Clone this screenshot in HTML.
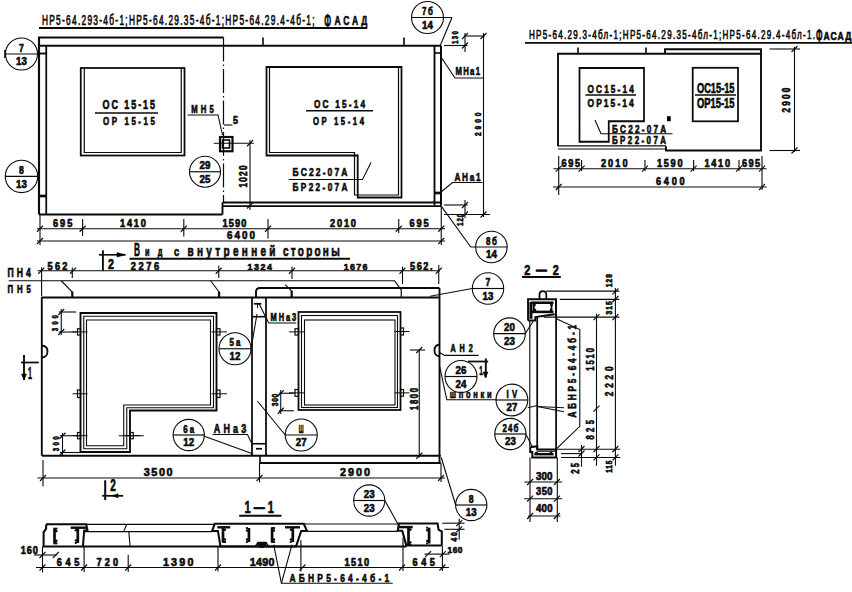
<!DOCTYPE html>
<html><head><meta charset="utf-8"><style>
html,body{margin:0;padding:0;background:#fff;}
svg{display:block;}
svg text{font-family:"Liberation Sans",sans-serif;fill:#0a0a0a;stroke:#0a0a0a;stroke-width:0.65px;}
</style></head><body>
<svg width="852" height="592" viewBox="0 0 852 592" stroke="#0a0a0a" fill="none" stroke-linecap="butt">
<rect x="0" y="0" width="852" height="592" fill="#fff" stroke="none"/>
<g stroke="#0a0a0a">
<text transform="translate(42,25.2) scale(0.6,1)" font-size="13.86" font-weight="normal" textLength="454.17" lengthAdjust="spacing">НР5-64.293-4б-1;НР5-64.29.35-4б-1;НР5-64.29.4-4б-1;</text>
<text transform="translate(324.2,27.5) scale(0.3819,1)" font-size="20.86" font-weight="bold" textLength="17.8" lengthAdjust="spacing">Ф</text>
<text transform="translate(334.5,24.6) scale(0.66,1)" font-size="12.86" font-weight="bold" textLength="49.7" lengthAdjust="spacing">АСАД</text>
<line x1="39" y1="28" x2="367" y2="28" stroke-width="1.76"/>
<circle cx="21.5" cy="54" r="16" stroke-width="1.1" fill="none"/>
<line x1="5.5" y1="54" x2="37.5" y2="54" stroke-width="1.16"/>
<text transform="translate(19.1,51.5) scale(0.7846,1)" font-size="11.0" font-weight="bold" textLength="6.12" lengthAdjust="spacing">7</text>
<text transform="translate(16.1,65.4) scale(0.8716,1)" font-size="11.14" font-weight="bold" textLength="12.39" lengthAdjust="spacing">13</text>
<line x1="5" y1="50" x2="5" y2="58" stroke-width="1.62"/>
<circle cx="21.5" cy="176.4" r="16.2" stroke-width="1.1" fill="none"/>
<line x1="5" y1="176.4" x2="40" y2="176.4" stroke-width="1.16"/>
<text transform="translate(19.1,173.9) scale(0.7846,1)" font-size="11.0" font-weight="bold" textLength="6.12" lengthAdjust="spacing">8</text>
<text transform="translate(16.1,187.8) scale(0.8716,1)" font-size="11.14" font-weight="bold" textLength="12.39" lengthAdjust="spacing">13</text>
<path d="M39,214.5 L39,37.5 L223.5,37.5" stroke-width="2.16" fill="none"/>
<line x1="39" y1="45.75" x2="441" y2="45.75" stroke-width="1.89"/>
<line x1="46.25" y1="45.75" x2="46.25" y2="214.5" stroke-width="1.76"/>
<line x1="39" y1="53.5" x2="46.25" y2="53.5" stroke-width="1.89"/>
<line x1="39" y1="196" x2="46.25" y2="196" stroke-width="2.7"/>
<line x1="39" y1="214.5" x2="222.5" y2="214.5" stroke-width="2.16"/>
<line x1="222.5" y1="214.5" x2="222.5" y2="202.5" stroke-width="1.89"/>
<line x1="222.5" y1="202.5" x2="441" y2="202.5" stroke-width="1.76"/>
<line x1="222.5" y1="206.2" x2="441" y2="206.2" stroke-width="1.76"/>
<line x1="434.5" y1="45.75" x2="434.5" y2="205.5" stroke-width="1.89"/>
<line x1="441" y1="45.75" x2="441" y2="205.5" stroke-width="2.03"/>
<line x1="434.5" y1="53" x2="441" y2="53" stroke-width="1.62"/>
<line x1="434.5" y1="193" x2="441" y2="193" stroke-width="2.7"/>
<line x1="223.5" y1="37.5" x2="223.5" y2="202.5" stroke-width="1.2" stroke-dasharray="24,3,1.5,3"/>
<line x1="263" y1="37.5" x2="263" y2="45.75" stroke-width="1.62"/>
<line x1="404" y1="37.5" x2="404" y2="45.75" stroke-width="1.62"/>
<rect x="80.75" y="68" width="103.75" height="87.5" stroke-width="1.76" fill="none"/>
<path d="M84.25,68 L84.25,152.5 L181.25,152.5 L181.25,68" stroke-width="1.21" fill="none"/>
<text transform="translate(102.5,108.75) scale(0.72,1)" font-size="12.5" font-weight="bold" textLength="72.92" lengthAdjust="spacing">ОС 15-15</text>
<line x1="95" y1="113" x2="158" y2="113" stroke-width="1.62"/>
<text transform="translate(103,125.2) scale(0.72,1)" font-size="11.0" font-weight="bold" textLength="72.22" lengthAdjust="spacing">ОР 15-15</text>
<text transform="translate(191.25,113) scale(0.72,1)" font-size="10.71" font-weight="bold" textLength="31.25" lengthAdjust="spacing">МН5</text>
<path d="M187.5,115 L218,115 L222.5,135" stroke-width="1.1" fill="none"/>
<text transform="translate(233,124) scale(0.7866,1)" font-size="11.43" font-weight="bold" textLength="6.36" lengthAdjust="spacing">5</text>
<line x1="224" y1="125" x2="232.5" y2="125" stroke-width="1.1"/>
<rect x="220" y="137" width="12.5" height="14.25" stroke-width="2.16" fill="none"/>
<rect x="222.5" y="140" width="7.0" height="8" stroke-width="1.62" fill="none"/>
<line x1="213.75" y1="143.25" x2="253.75" y2="143.25" stroke-width="1.1"/>
<circle cx="205" cy="171.75" r="15.5" stroke-width="1.1" fill="none"/>
<line x1="189.5" y1="171.75" x2="220.5" y2="171.75" stroke-width="1.16"/>
<text transform="translate(199.6,169.25) scale(0.8827,1)" font-size="11.0" font-weight="bold" textLength="12.24" lengthAdjust="spacing">29</text>
<text transform="translate(199.6,183.15) scale(0.8716,1)" font-size="11.14" font-weight="bold" textLength="12.39" lengthAdjust="spacing">25</text>
<text transform="translate(246.5,187.6) rotate(-90) scale(0.72,1)" x="0" y="0" font-size="11.43" font-weight="bold" textLength="30.69" lengthAdjust="spacing">1020</text>
<line x1="250" y1="140" x2="250" y2="210" stroke-width="1.1"/>
<line x1="247" y1="146.25" x2="253" y2="140.25" stroke-width="1.1"/>
<line x1="247" y1="208.5" x2="253" y2="202.5" stroke-width="1.1"/>
<path d="M266.5,67 L401.5,67 L401.5,197.5 L357.7,197.5 L357.7,155.5 L266.5,155.5 Z" stroke-width="1.76" fill="none"/>
<path d="M269.5,67 L269.5,152.5 L354.5,152.5 L354.5,195 L398.5,195 L398.5,67" stroke-width="1.21" fill="none"/>
<text transform="translate(314,108) scale(0.72,1)" font-size="11.43" font-weight="bold" textLength="70.83" lengthAdjust="spacing">ОС 15-14</text>
<line x1="306" y1="110.75" x2="373" y2="110.75" stroke-width="1.62"/>
<text transform="translate(313,125) scale(0.72,1)" font-size="10.71" font-weight="bold" textLength="70.83" lengthAdjust="spacing">ОР 15-14</text>
<text transform="translate(292.5,176.25) scale(0.72,1)" font-size="11.79" font-weight="bold" textLength="76.39" lengthAdjust="spacing">БС22-07А</text>
<path d="M288.75,179.5 L362.5,179.5 L371,162.5" stroke-width="1.1" fill="none"/>
<text transform="translate(292.5,190.5) scale(0.72,1)" font-size="11.43" font-weight="bold" textLength="76.39" lengthAdjust="spacing">БР22-07А</text>
<text transform="translate(455.5,75) scale(0.72,1)" font-size="10.71" font-weight="bold" textLength="34.03" lengthAdjust="spacing">МНа1</text>
<path d="M441,57 L455,78 L483,78" stroke-width="1.1" fill="none"/>
<text transform="translate(454.5,180.5) scale(0.72,1)" font-size="11.43" font-weight="bold" textLength="36.11" lengthAdjust="spacing">АНа1</text>
<path d="M441,192 L452.5,182.5 L482.5,182.5" stroke-width="1.1" fill="none"/>
<circle cx="427.5" cy="17.5" r="16" stroke-width="1.1" fill="none"/>
<line x1="411.5" y1="17.5" x2="452" y2="17.5" stroke-width="1.16"/>
<text transform="translate(422.1,15.0) scale(0.72,1)" font-size="11.0" font-weight="bold" textLength="15.0" lengthAdjust="spacing">7б</text>
<text transform="translate(422.1,28.9) scale(0.8716,1)" font-size="11.14" font-weight="bold" textLength="12.39" lengthAdjust="spacing">14</text>
<line x1="452" y1="17.5" x2="440" y2="46" stroke-width="1.1"/>
<text transform="translate(457.5,44) rotate(-90) scale(0.72,1)" x="0" y="0" font-size="8.57" font-weight="bold" textLength="18.06" lengthAdjust="spacing">130</text>
<line x1="465" y1="36" x2="485" y2="36" stroke-width="1.1"/>
<line x1="444" y1="45.5" x2="467.5" y2="45.5" stroke-width="1.1"/>
<line x1="465" y1="33" x2="465" y2="52" stroke-width="1.1"/>
<line x1="462" y1="39" x2="468" y2="33" stroke-width="1.1"/>
<line x1="462" y1="48.5" x2="468" y2="42.5" stroke-width="1.1"/>
<line x1="483.5" y1="33" x2="483.5" y2="217" stroke-width="1.1"/>
<line x1="480.5" y1="39" x2="486.5" y2="33" stroke-width="1.1"/>
<text transform="translate(480.75,136) rotate(-90) scale(0.72,1)" x="0" y="0" font-size="9.29" font-weight="bold" textLength="32.64" lengthAdjust="spacing">2900</text>
<line x1="444" y1="205" x2="467.5" y2="205" stroke-width="1.1"/>
<line x1="444" y1="214.5" x2="490" y2="214.5" stroke-width="1.1"/>
<line x1="465" y1="200" x2="465" y2="218" stroke-width="1.1"/>
<line x1="462" y1="208" x2="468" y2="202" stroke-width="1.1"/>
<line x1="462" y1="217.5" x2="468" y2="211.5" stroke-width="1.1"/>
<line x1="480.5" y1="217.5" x2="486.5" y2="211.5" stroke-width="1.1"/>
<text transform="translate(462.5,226) rotate(-90) scale(0.72,1)" x="0" y="0" font-size="8.57" font-weight="bold" textLength="17.01" lengthAdjust="spacing">120</text>
<circle cx="491.4" cy="247" r="15.8" stroke-width="1.1" fill="none"/>
<line x1="470.7" y1="247" x2="507.2" y2="247" stroke-width="1.16"/>
<text transform="translate(486.0,244.5) scale(0.72,1)" font-size="11.0" font-weight="bold" textLength="15.0" lengthAdjust="spacing">8б</text>
<text transform="translate(486.0,258.4) scale(0.8716,1)" font-size="11.14" font-weight="bold" textLength="12.39" lengthAdjust="spacing">14</text>
<line x1="470.7" y1="247" x2="441.6" y2="206.6" stroke-width="1.1"/>
<line x1="37" y1="228.75" x2="445" y2="228.75" stroke-width="1.1"/>
<line x1="37" y1="231.75" x2="43" y2="225.75" stroke-width="1.1"/>
<line x1="79.6" y1="231.75" x2="85.6" y2="225.75" stroke-width="1.1"/>
<line x1="180.8" y1="231.75" x2="186.8" y2="225.75" stroke-width="1.1"/>
<line x1="265" y1="231.75" x2="271" y2="225.75" stroke-width="1.1"/>
<line x1="395.75" y1="231.75" x2="401.75" y2="225.75" stroke-width="1.1"/>
<line x1="438.25" y1="231.75" x2="444.25" y2="225.75" stroke-width="1.1"/>
<line x1="40" y1="214.5" x2="40" y2="245" stroke-width="1.1"/>
<line x1="441.25" y1="205.5" x2="441.25" y2="245" stroke-width="1.1"/>
<line x1="82.6" y1="219" x2="82.6" y2="236" stroke-width="1.1"/>
<line x1="183.8" y1="219" x2="183.8" y2="236.5" stroke-width="1.1"/>
<line x1="268" y1="219" x2="268" y2="238.5" stroke-width="1.1"/>
<line x1="398.75" y1="219" x2="398.75" y2="233" stroke-width="1.1"/>
<text transform="translate(53,226.5) scale(0.92,1)" font-size="10.0" font-weight="bold" textLength="20.98" lengthAdjust="spacing">695</text>
<text transform="translate(120,226.5) scale(0.92,1)" font-size="10.0" font-weight="bold" textLength="28.15" lengthAdjust="spacing">1410</text>
<text transform="translate(222.5,226.5) scale(0.92,1)" font-size="10.0" font-weight="bold" textLength="25.82" lengthAdjust="spacing">1590</text>
<text transform="translate(330,226.5) scale(0.92,1)" font-size="10.0" font-weight="bold" textLength="28.26" lengthAdjust="spacing">2010</text>
<text transform="translate(409.5,226.5) scale(0.92,1)" font-size="10.0" font-weight="bold" textLength="20.92" lengthAdjust="spacing">695</text>
<line x1="37" y1="241" x2="445" y2="241" stroke-width="1.1"/>
<line x1="37" y1="244" x2="43" y2="238" stroke-width="1.1"/>
<line x1="438.25" y1="244" x2="444.25" y2="238" stroke-width="1.1"/>
<text transform="translate(227,238.75) scale(0.92,1)" font-size="10.71" font-weight="bold" textLength="30.43" lengthAdjust="spacing">6400</text>
<text transform="translate(529,39.2) scale(0.6,1)" font-size="13.43" font-weight="normal" textLength="476.67" lengthAdjust="spacing">НР5-64.29.3-4бл-1;НР5-64.29.35-4бл-1;НР5-64.29.4-4бл-1.</text>
<text transform="translate(816,41.5) scale(0.4231,1)" font-size="18.0" font-weight="bold" textLength="15.36" lengthAdjust="spacing">Ф</text>
<text transform="translate(823.5,39.6) scale(0.75,1)" font-size="11.43" font-weight="bold" textLength="37.07" lengthAdjust="spacing">АСАД</text>
<line x1="525" y1="42.8" x2="852" y2="42.8" stroke-width="1.76"/>
<path d="M558,146.25 L558,53.75 L761,53.75" stroke-width="1.89" fill="none"/>
<path d="M665,53.75 L665,49.25 L761,49.25 L761,150.5 L666,150.5 L666,146.25" stroke-width="1.89" fill="none"/>
<line x1="558" y1="145.9" x2="666" y2="145.9" stroke-width="1.21"/>
<line x1="558" y1="149" x2="666" y2="149" stroke-width="1.21"/>
<line x1="578" y1="47.5" x2="578" y2="53.75" stroke-width="1.62"/>
<line x1="646" y1="47.5" x2="646" y2="53.75" stroke-width="1.62"/>
<path d="M579.5,68 L644,68 L644,121.25 L608.75,121.25 L608.75,141.75 L579.5,141.75 Z" stroke-width="1.76" fill="none"/>
<text transform="translate(587.5,92.5) scale(0.72,1)" font-size="11.43" font-weight="bold" textLength="64.24" lengthAdjust="spacing">ОС15-14</text>
<line x1="585.5" y1="95" x2="636" y2="95" stroke-width="1.62"/>
<text transform="translate(587.5,107) scale(0.72,1)" font-size="11.79" font-weight="bold" textLength="64.24" lengthAdjust="spacing">ОР15-14</text>
<text transform="translate(612,132.5) scale(0.72,1)" font-size="11.43" font-weight="bold" textLength="75.35" lengthAdjust="spacing">БС22-07А</text>
<path d="M595,120 L601,133.75 L672.5,133.75" stroke-width="1.1" fill="none"/>
<text transform="translate(612,143.75) scale(0.72,1)" font-size="11.07" font-weight="bold" textLength="75.0" lengthAdjust="spacing">БР22-07А</text>
<rect x="667" y="116.25" width="3.75" height="5.0" stroke-width="0.0" fill="#000"/>
<rect x="692.7" y="67.8" width="45.3" height="53.5" stroke-width="1.76" fill="none"/>
<text transform="translate(697,93) scale(0.6467,1)" font-size="14.29" font-weight="bold" textLength="57.98" lengthAdjust="spacing">ОС15-15</text>
<line x1="695" y1="95" x2="736" y2="95" stroke-width="1.62"/>
<text transform="translate(697,107.6) scale(0.6834,1)" font-size="13.71" font-weight="bold" textLength="54.87" lengthAdjust="spacing">ОР15-15</text>
<line x1="794.5" y1="46.8" x2="794.5" y2="152" stroke-width="1.1"/>
<line x1="769.6" y1="49" x2="800" y2="49" stroke-width="1.1"/>
<line x1="769.6" y1="150.5" x2="800" y2="150.5" stroke-width="1.1"/>
<line x1="791.5" y1="52" x2="797.5" y2="46" stroke-width="1.1"/>
<line x1="791.5" y1="153.5" x2="797.5" y2="147.5" stroke-width="1.1"/>
<text transform="translate(790.0,112.6) rotate(-90) scale(0.72,1)" x="0" y="0" font-size="11.43" font-weight="bold" textLength="34.58" lengthAdjust="spacing">2900</text>
<line x1="553.5" y1="168.7" x2="766.5" y2="168.7" stroke-width="1.1"/>
<line x1="555.7" y1="171.7" x2="561.7" y2="165.7" stroke-width="1.1"/>
<line x1="578.6" y1="171.7" x2="584.6" y2="165.7" stroke-width="1.1"/>
<line x1="642" y1="171.7" x2="648" y2="165.7" stroke-width="1.1"/>
<line x1="690.6" y1="171.7" x2="696.6" y2="165.7" stroke-width="1.1"/>
<line x1="736" y1="171.7" x2="742" y2="165.7" stroke-width="1.1"/>
<line x1="759" y1="171.7" x2="765" y2="165.7" stroke-width="1.1"/>
<line x1="581.6" y1="160" x2="581.6" y2="171" stroke-width="1.1"/>
<line x1="645" y1="160" x2="645" y2="171" stroke-width="1.1"/>
<line x1="693.6" y1="160" x2="693.6" y2="171" stroke-width="1.1"/>
<line x1="739" y1="160" x2="739" y2="171" stroke-width="1.1"/>
<line x1="558.7" y1="156" x2="558.7" y2="195" stroke-width="1.1"/>
<line x1="762" y1="156" x2="762" y2="190" stroke-width="1.1"/>
<text transform="translate(561.5,166.5) scale(0.92,1)" font-size="10.0" font-weight="bold" textLength="20.11" lengthAdjust="spacing">695</text>
<text transform="translate(601,166.5) scale(0.92,1)" font-size="10.0" font-weight="bold" textLength="28.8" lengthAdjust="spacing">2010</text>
<text transform="translate(657,166.5) scale(0.92,1)" font-size="10.0" font-weight="bold" textLength="27.72" lengthAdjust="spacing">1590</text>
<text transform="translate(704.5,166.5) scale(0.92,1)" font-size="10.0" font-weight="bold" textLength="27.72" lengthAdjust="spacing">1410</text>
<text transform="translate(742,166.5) scale(0.92,1)" font-size="10.0" font-weight="bold" textLength="19.57" lengthAdjust="spacing">695</text>
<line x1="553" y1="187" x2="766.5" y2="187" stroke-width="1.1"/>
<line x1="555.7" y1="190" x2="561.7" y2="184" stroke-width="1.1"/>
<line x1="759" y1="190" x2="765" y2="184" stroke-width="1.1"/>
<text transform="translate(656,184.8) scale(0.92,1)" font-size="10.0" font-weight="bold" textLength="31.09" lengthAdjust="spacing">6400</text>
<text transform="translate(133.9,256.1) scale(0.4729,1)" font-size="17.57" font-weight="bold" textLength="12.69" lengthAdjust="spacing">В</text>
<text transform="translate(144.9,256.1) scale(0.6,1)" font-size="12.22" font-weight="bold" textLength="29.0" lengthAdjust="spacing">ид</text>
<text transform="translate(173.9,256.1) scale(0.711,1)" font-size="13.15" font-weight="bold" textLength="7.31" lengthAdjust="spacing">с</text>
<text transform="translate(187.6,256) scale(0.72,1)" font-size="13.89" font-weight="bold" textLength="122.08" lengthAdjust="spacing">внутренней</text>
<text transform="translate(283,256) scale(0.72,1)" font-size="13.89" font-weight="bold" textLength="78.75" lengthAdjust="spacing">стороны</text>
<line x1="129.5" y1="258.75" x2="350" y2="258.75" stroke-width="1.76"/>
<line x1="102.9" y1="250.3" x2="102.9" y2="270.9" stroke-width="1.89"/>
<line x1="99" y1="254.8" x2="125.5" y2="254.8" stroke-width="1.62"/>
<path d="M125.5,254.8 L117,252.6 L117,257 Z" stroke-width="0.55" fill="#000"/>
<text transform="translate(108,269) scale(0.7654,1)" font-size="13.86" font-weight="bold" textLength="7.71" lengthAdjust="spacing">2</text>
<line x1="37.5" y1="270.75" x2="440" y2="270.75" stroke-width="1.1"/>
<line x1="38.25" y1="273.75" x2="44.25" y2="267.75" stroke-width="1.1"/>
<line x1="70" y1="273.75" x2="76" y2="267.75" stroke-width="1.1"/>
<line x1="215.75" y1="273.75" x2="221.75" y2="267.75" stroke-width="1.1"/>
<line x1="289" y1="273.75" x2="295" y2="267.75" stroke-width="1.1"/>
<line x1="399.5" y1="273.75" x2="405.5" y2="267.75" stroke-width="1.1"/>
<line x1="435.75" y1="273.75" x2="441.75" y2="267.75" stroke-width="1.1"/>
<text transform="translate(47.5,269.5) scale(0.92,1)" font-size="10.0" font-weight="bold" textLength="21.74" lengthAdjust="spacing">562</text>
<text transform="translate(130.7,269.6) scale(0.92,1)" font-size="10.14" font-weight="bold" textLength="30.87" lengthAdjust="spacing">2276</text>
<text transform="translate(247.5,270) scale(0.92,1)" font-size="9.64" font-weight="bold" textLength="26.63" lengthAdjust="spacing">1324</text>
<text transform="translate(343.75,270) scale(0.92,1)" font-size="9.64" font-weight="bold" textLength="25.82" lengthAdjust="spacing">1676</text>
<text transform="translate(410,269.5) scale(0.92,1)" font-size="10.0" font-weight="bold" textLength="24.46" lengthAdjust="spacing">562.</text>
<line x1="438.75" y1="265" x2="438.75" y2="284" stroke-width="1.1"/>
<line x1="218.75" y1="265.5" x2="218.75" y2="278" stroke-width="1.1"/>
<line x1="292" y1="266.5" x2="292" y2="279" stroke-width="1.1"/>
<line x1="402.5" y1="266.5" x2="402.5" y2="284" stroke-width="1.1"/>
<text transform="translate(7.6,276.7) scale(0.72,1)" font-size="12.0" font-weight="bold" textLength="32.22" lengthAdjust="spacing">ПН4</text>
<text transform="translate(7.6,292.6) scale(0.72,1)" font-size="10.86" font-weight="bold" textLength="32.22" lengthAdjust="spacing">ПН5</text>
<path d="M8.75,280.75 L394.5,280.75 L401.25,290 L401.25,297.5" stroke-width="1.21" fill="none"/>
<line x1="61.3" y1="280.75" x2="72.3" y2="292.1" stroke-width="1.1"/>
<line x1="72.3" y1="291.6" x2="72.3" y2="297.5" stroke-width="2.16"/>
<line x1="72.3" y1="267.5" x2="72.3" y2="278" stroke-width="1.1"/>
<line x1="210.4" y1="280.5" x2="219.1" y2="292" stroke-width="1.1"/>
<line x1="219.1" y1="291.5" x2="219.1" y2="297.5" stroke-width="2.16"/>
<line x1="285.2" y1="284.6" x2="291.7" y2="291.2" stroke-width="1.1"/>
<line x1="291.7" y1="290.7" x2="291.7" y2="297.5" stroke-width="2.16"/>
<line x1="41.25" y1="297.5" x2="438.75" y2="297.5" stroke-width="1.89"/>
<line x1="41.6" y1="267.6" x2="41.6" y2="296" stroke-width="1.1"/>
<line x1="41.8" y1="297.5" x2="41.8" y2="455.75" stroke-width="1.89"/>
<line x1="42" y1="455.75" x2="440.75" y2="455.75" stroke-width="1.89"/>
<path d="M256,297.5 L256,292 Q256,288 260,288 L439.5,288" stroke-width="1.89" fill="none"/>
<line x1="439.5" y1="288" x2="439.5" y2="463" stroke-width="1.89"/>
<line x1="260" y1="463" x2="440.75" y2="463" stroke-width="1.89"/>
<line x1="260" y1="455.75" x2="260" y2="463" stroke-width="1.62"/>
<path d="M42,345.5 Q47.5,346 47.5,351.5 Q47.5,357 42,357.5" stroke-width="1.76" fill="none"/>
<path d="M439.5,344.5 Q434.5,345 434.5,350.5 Q434.5,356 439.5,356.25" stroke-width="1.76" fill="none"/>
<line x1="252" y1="297.5" x2="252" y2="455.75" stroke-width="1.76"/>
<line x1="266" y1="297.5" x2="266" y2="455.75" stroke-width="1.76"/>
<line x1="252" y1="316.7" x2="266" y2="316.7" stroke-width="1.62"/>
<line x1="253.75" y1="303.75" x2="261.25" y2="303.75" stroke-width="1.76"/>
<line x1="257.5" y1="303.75" x2="257.5" y2="308" stroke-width="1.1"/>
<line x1="252" y1="443.75" x2="266" y2="443.75" stroke-width="1.62"/>
<line x1="256" y1="448.75" x2="262" y2="448.75" stroke-width="1.76"/>
<path d="M80.5,313 L216.5,313 L216.5,410.5 L130,410.5 L130,452 L80.5,452 Z" stroke-width="1.89" fill="none"/>
<path d="M83.75,316.25 L213.5,316.25 L213.5,407.75 L126.75,407.75 L126.75,448.75 L83.75,448.75 Z" stroke-width="1.1" fill="none"/>
<path d="M86.5,320 L210.5,320 L210.5,405 L123.75,405 L123.75,445.75 L86.5,445.75 Z" stroke-width="1.1" fill="none"/>
<rect x="77.5" y="328.75" width="3.0" height="6.25" stroke-width="1.21" fill="none"/>
<line x1="72.5" y1="331.875" x2="87.5" y2="331.875" stroke-width="0.99"/>
<rect x="77.5" y="390" width="3.0" height="7.5" stroke-width="1.21" fill="none"/>
<line x1="72.5" y1="393.75" x2="87.5" y2="393.75" stroke-width="0.99"/>
<rect x="77.5" y="432.5" width="3.0" height="6.25" stroke-width="1.21" fill="none"/>
<line x1="72.5" y1="435.625" x2="87.5" y2="435.625" stroke-width="0.99"/>
<rect x="216.5" y="328.75" width="3.5" height="6.25" stroke-width="1.21" fill="none"/>
<line x1="211.5" y1="331.875" x2="227" y2="331.875" stroke-width="0.99"/>
<rect x="216.5" y="390" width="3.5" height="7.5" stroke-width="1.21" fill="none"/>
<line x1="211.5" y1="393.75" x2="227" y2="393.75" stroke-width="0.99"/>
<rect x="130" y="432.5" width="3.25" height="6.25" stroke-width="1.21" fill="none"/>
<line x1="125" y1="435.625" x2="140.25" y2="435.625" stroke-width="0.99"/>
<line x1="118.75" y1="435.75" x2="143.75" y2="435.75" stroke-width="0.99"/>
<text transform="translate(57.5,331.25) rotate(-90) scale(0.72,1)" x="0" y="0" font-size="8.57" font-weight="bold" textLength="22.57" lengthAdjust="spacing">300</text>
<line x1="58.75" y1="312" x2="76.25" y2="312" stroke-width="1.1"/>
<line x1="58.75" y1="332" x2="76.25" y2="332" stroke-width="1.1"/>
<line x1="61.25" y1="309" x2="61.25" y2="335" stroke-width="1.1"/>
<line x1="58.25" y1="315" x2="64.25" y2="309" stroke-width="1.1"/>
<line x1="58.25" y1="335" x2="64.25" y2="329" stroke-width="1.1"/>
<text transform="translate(59.25,451.25) rotate(-90) scale(0.72,1)" x="0" y="0" font-size="8.57" font-weight="bold" textLength="20.83" lengthAdjust="spacing">300</text>
<line x1="60" y1="435.75" x2="80" y2="435.75" stroke-width="1.1"/>
<line x1="60" y1="452.5" x2="80" y2="452.5" stroke-width="1.1"/>
<line x1="62.5" y1="433" x2="62.5" y2="455" stroke-width="1.1"/>
<line x1="59.5" y1="438.75" x2="65.5" y2="432.75" stroke-width="1.1"/>
<line x1="59.5" y1="455.5" x2="65.5" y2="449.5" stroke-width="1.1"/>
<line x1="24" y1="355" x2="24" y2="380" stroke-width="1.89"/>
<line x1="21" y1="362.5" x2="38.75" y2="362.5" stroke-width="1.76"/>
<text transform="translate(28,378.75) scale(0.4476,1)" font-size="16.07" font-weight="bold" textLength="8.94" lengthAdjust="spacing">1</text>
<path d="M24,380 L21.5,374 L26.5,374 Z" stroke-width="0.55" fill="#000"/>
<circle cx="235" cy="348.75" r="16" stroke-width="1.1" fill="none"/>
<line x1="219" y1="348.75" x2="251" y2="348.75" stroke-width="1.16"/>
<text transform="translate(229.6,346.25) scale(0.72,1)" font-size="11.0" font-weight="bold" textLength="15.0" lengthAdjust="spacing">5а</text>
<text transform="translate(229.6,360.15) scale(0.8716,1)" font-size="11.14" font-weight="bold" textLength="12.39" lengthAdjust="spacing">12</text>
<line x1="251" y1="349" x2="257" y2="314" stroke-width="1.1"/>
<circle cx="188.75" cy="435" r="15.6" stroke-width="1.1" fill="none"/>
<line x1="173.15" y1="435" x2="204.35" y2="435" stroke-width="1.16"/>
<text transform="translate(183.35,432.5) scale(0.72,1)" font-size="11.0" font-weight="bold" textLength="15.0" lengthAdjust="spacing">6а</text>
<text transform="translate(183.35,446.4) scale(0.8716,1)" font-size="11.14" font-weight="bold" textLength="12.39" lengthAdjust="spacing">12</text>
<line x1="203.75" y1="436" x2="252.5" y2="453.75" stroke-width="1.1"/>
<text transform="translate(213.75,432.5) scale(0.72,1)" font-size="12.5" font-weight="bold" textLength="45.14" lengthAdjust="spacing">АНа3</text>
<path d="M212.5,434.5 L247.5,434.5 L252.5,445" stroke-width="1.1" fill="none"/>
<rect x="298.5" y="312" width="102.0" height="98" stroke-width="1.76" fill="none"/>
<rect x="301.5" y="315.5" width="96.0" height="92.0" stroke-width="1.1" fill="none"/>
<rect x="304.5" y="320" width="90.5" height="85" stroke-width="1.1" fill="none"/>
<rect x="295" y="328.75" width="3.5" height="6.25" stroke-width="1.21" fill="none"/>
<line x1="289" y1="331.875" x2="304.5" y2="331.875" stroke-width="0.99"/>
<rect x="295" y="389.5" width="3.5" height="6.75" stroke-width="1.21" fill="none"/>
<line x1="289" y1="392.875" x2="304.5" y2="392.875" stroke-width="0.99"/>
<rect x="400.5" y="328" width="3.0" height="7" stroke-width="1.21" fill="none"/>
<line x1="394.5" y1="331.5" x2="409.5" y2="331.5" stroke-width="0.99"/>
<rect x="400.5" y="389.5" width="3.0" height="6.75" stroke-width="1.21" fill="none"/>
<line x1="394.5" y1="392.875" x2="409.5" y2="392.875" stroke-width="0.99"/>
<text transform="translate(270.5,320.5) scale(0.72,1)" font-size="10.36" font-weight="bold" textLength="35.76" lengthAdjust="spacing">МНа3</text>
<path d="M258.9,303.5 L268.75,323 L296.25,323" stroke-width="1.1" fill="none"/>
<text transform="translate(277.75,406.25) rotate(-90) scale(0.72,1)" x="0" y="0" font-size="9.29" font-weight="bold" textLength="17.36" lengthAdjust="spacing">300</text>
<line x1="278.75" y1="393.25" x2="293.75" y2="393.25" stroke-width="1.1"/>
<line x1="278.75" y1="410.75" x2="293.75" y2="410.75" stroke-width="1.1"/>
<line x1="280.75" y1="390" x2="280.75" y2="414" stroke-width="1.1"/>
<line x1="277.75" y1="396.25" x2="283.75" y2="390.25" stroke-width="1.1"/>
<line x1="277.75" y1="413.75" x2="283.75" y2="407.75" stroke-width="1.1"/>
<circle cx="301.25" cy="435" r="16" stroke-width="1.1" fill="none"/>
<line x1="285.25" y1="435" x2="317.25" y2="435" stroke-width="1.16"/>
<text transform="translate(298.85,432.5) scale(0.4342,1)" font-size="11.0" font-weight="bold" textLength="11.05" lengthAdjust="spacing">Ш</text>
<text transform="translate(295.85,446.4) scale(0.8716,1)" font-size="11.14" font-weight="bold" textLength="12.39" lengthAdjust="spacing">27</text>
<line x1="285.25" y1="435" x2="257.5" y2="401.25" stroke-width="1.1"/>
<text transform="translate(417.5,410) rotate(-90) scale(0.72,1)" x="0" y="0" font-size="10.71" font-weight="bold" textLength="30.56" lengthAdjust="spacing">1800</text>
<line x1="419.25" y1="350" x2="419.25" y2="457.5" stroke-width="1.1"/>
<line x1="410" y1="350" x2="425" y2="350" stroke-width="1.1"/>
<line x1="416.25" y1="353" x2="422.25" y2="347" stroke-width="1.1"/>
<line x1="416.25" y1="458.75" x2="422.25" y2="452.75" stroke-width="1.1"/>
<text transform="translate(450.4,352) scale(0.72,1)" font-size="10.0" font-weight="bold" textLength="31.11" lengthAdjust="spacing">АН2</text>
<path d="M439.7,352.5 L444.5,355.4 L478.7,355.4" stroke-width="1.1" fill="none"/>
<line x1="485.8" y1="358.5" x2="485.8" y2="377.4" stroke-width="1.89"/>
<line x1="468" y1="361.5" x2="488.2" y2="361.5" stroke-width="1.76"/>
<text transform="translate(479.2,375) scale(0.5033,1)" font-size="12.86" font-weight="bold" textLength="7.15" lengthAdjust="spacing">1</text>
<path d="M485.5,378 L483,372 L488,372 Z" stroke-width="0.55" fill="#000"/>
<circle cx="461" cy="376.5" r="16" stroke-width="1.1" fill="none"/>
<line x1="445" y1="376.5" x2="477" y2="376.5" stroke-width="1.16"/>
<text transform="translate(455.6,374.0) scale(0.8827,1)" font-size="11.0" font-weight="bold" textLength="12.24" lengthAdjust="spacing">26</text>
<text transform="translate(455.6,387.9) scale(0.8716,1)" font-size="11.14" font-weight="bold" textLength="12.39" lengthAdjust="spacing">24</text>
<text transform="translate(449.7,398.3) scale(0.72,1)" font-size="10.37" font-weight="bold" textLength="58.33" lengthAdjust="spacing">шпонки</text>
<path d="M439.7,366.7 L446.8,399.8 L496,399.8" stroke-width="1.1" fill="none"/>
<circle cx="511.9" cy="400" r="15.9" stroke-width="1.1" fill="none"/>
<line x1="496.0" y1="400" x2="527.8" y2="400" stroke-width="1.16"/>
<text transform="translate(506.5,397.5) scale(0.72,1)" font-size="11.0" font-weight="bold" textLength="15.0" lengthAdjust="spacing">IV</text>
<text transform="translate(506.5,411.4) scale(0.8716,1)" font-size="11.14" font-weight="bold" textLength="12.39" lengthAdjust="spacing">27</text>
<circle cx="509.5" cy="333.7" r="15.8" stroke-width="1.1" fill="none"/>
<line x1="493.7" y1="333.7" x2="525.3" y2="333.7" stroke-width="1.16"/>
<text transform="translate(504.1,331.2) scale(0.8827,1)" font-size="11.0" font-weight="bold" textLength="12.24" lengthAdjust="spacing">20</text>
<text transform="translate(504.1,345.1) scale(0.8716,1)" font-size="11.14" font-weight="bold" textLength="12.39" lengthAdjust="spacing">23</text>
<line x1="525.3" y1="333.5" x2="533.2" y2="321.3" stroke-width="1.1"/>
<circle cx="510.4" cy="434" r="15.6" stroke-width="1.1" fill="none"/>
<line x1="494.79999999999995" y1="434" x2="526.0" y2="434" stroke-width="1.16"/>
<text transform="translate(502.4,431.5) scale(0.72,1)" font-size="11.0" font-weight="bold" textLength="22.22" lengthAdjust="spacing">24б</text>
<text transform="translate(505.0,445.4) scale(0.8716,1)" font-size="11.14" font-weight="bold" textLength="12.39" lengthAdjust="spacing">23</text>
<line x1="526" y1="434.5" x2="532.3" y2="446.8" stroke-width="1.1"/>
<circle cx="488" cy="288.5" r="15.7" stroke-width="1.1" fill="none"/>
<line x1="472.3" y1="288.5" x2="503.7" y2="288.5" stroke-width="1.16"/>
<text transform="translate(485.6,286.0) scale(0.7846,1)" font-size="11.0" font-weight="bold" textLength="6.12" lengthAdjust="spacing">7</text>
<text transform="translate(482.6,299.9) scale(0.8716,1)" font-size="11.14" font-weight="bold" textLength="12.39" lengthAdjust="spacing">13</text>
<line x1="472.3" y1="288.5" x2="430" y2="296.25" stroke-width="1.1"/>
<line x1="37.5" y1="478" x2="445" y2="478" stroke-width="1.1"/>
<line x1="43" y1="460" x2="43" y2="486.25" stroke-width="1.1"/>
<line x1="259.5" y1="463" x2="259.5" y2="482.5" stroke-width="1.1"/>
<line x1="441" y1="463" x2="441" y2="482" stroke-width="1.1"/>
<line x1="40" y1="481" x2="46" y2="475" stroke-width="1.1"/>
<line x1="256.5" y1="481" x2="262.5" y2="475" stroke-width="1.1"/>
<line x1="438" y1="481" x2="444" y2="475" stroke-width="1.1"/>
<text transform="translate(143.75,476.25) scale(0.92,1)" font-size="11.79" font-weight="bold" textLength="31.25" lengthAdjust="spacing">3500</text>
<text transform="translate(340,476.25) scale(0.92,1)" font-size="11.79" font-weight="bold" textLength="32.61" lengthAdjust="spacing">2900</text>
<line x1="105.2" y1="480.3" x2="105.2" y2="500.1" stroke-width="2.03"/>
<line x1="102.1" y1="495.8" x2="123.2" y2="495.8" stroke-width="1.76"/>
<path d="M112,495.8 L118,493.8 L118,497.8 Z" stroke-width="0.55" fill="#000"/>
<text transform="translate(110.2,491.2) scale(0.6077,1)" font-size="16.57" font-weight="bold" textLength="9.22" lengthAdjust="spacing">2</text>
<circle cx="471.25" cy="505" r="15.6" stroke-width="1.1" fill="none"/>
<line x1="455.65" y1="505" x2="486.85" y2="505" stroke-width="1.16"/>
<text transform="translate(468.85,502.5) scale(0.7846,1)" font-size="11.0" font-weight="bold" textLength="6.12" lengthAdjust="spacing">8</text>
<text transform="translate(465.85,516.4) scale(0.8716,1)" font-size="11.14" font-weight="bold" textLength="12.39" lengthAdjust="spacing">13</text>
<line x1="455.65" y1="505" x2="441.25" y2="457.5" stroke-width="1.1"/>
<circle cx="369.2" cy="500.5" r="15.6" stroke-width="1.1" fill="none"/>
<line x1="353.59999999999997" y1="500.5" x2="384.8" y2="500.5" stroke-width="1.16"/>
<text transform="translate(363.8,498.0) scale(0.8827,1)" font-size="11.0" font-weight="bold" textLength="12.24" lengthAdjust="spacing">23</text>
<text transform="translate(363.8,511.9) scale(0.8716,1)" font-size="11.14" font-weight="bold" textLength="12.39" lengthAdjust="spacing">23</text>
<line x1="384.8" y1="500.5" x2="398.5" y2="525" stroke-width="1.1"/>
<text transform="translate(524.3,275) scale(0.72,1)" font-size="15.14" font-weight="bold" textLength="47.78" lengthAdjust="spacing">2 — 2</text>
<line x1="522" y1="277" x2="560.8" y2="277" stroke-width="1.89"/>
<path d="M539.5,299.2 L539.5,294.5 Q539.5,291.1 542.9,291.1 Q546.3,291.1 546.3,294.5 L546.3,299.2" stroke-width="1.76" fill="none"/>
<path d="M528.1,320.5 L528.1,299.2 L556,299.2 L556,317" stroke-width="2.03" fill="none"/>
<path d="M528.1,320.5 L535.3,320.5 L535.3,317.1 L554.7,314.2" stroke-width="1.89" fill="none"/>
<line x1="531" y1="302.75" x2="553.5" y2="302.75" stroke-width="2.56"/>
<line x1="531" y1="311.9" x2="553.5" y2="311.9" stroke-width="2.56"/>
<line x1="531" y1="302" x2="531" y2="318.8" stroke-width="2.97"/>
<line x1="533.8" y1="302.75" x2="533.8" y2="311.9" stroke-width="1.76"/>
<line x1="551.5" y1="302.75" x2="551.5" y2="311.9" stroke-width="1.76"/>
<circle cx="534.5" cy="305" r="1.3" fill="#0a0a0a" stroke="none"/>
<circle cx="551.5" cy="305" r="1.3" fill="#0a0a0a" stroke="none"/>
<circle cx="535" cy="310" r="1.3" fill="#0a0a0a" stroke="none"/>
<circle cx="551" cy="310" r="1.3" fill="#0a0a0a" stroke="none"/>
<line x1="529.8" y1="320.5" x2="529.8" y2="447.2" stroke-width="1.1"/>
<line x1="537.2" y1="317.1" x2="537.2" y2="449.6" stroke-width="1.76"/>
<line x1="556.1" y1="317" x2="556.1" y2="449.2" stroke-width="1.76"/>
<path d="M530.2,447.2 L537.2,446.2 L537.2,449.6 L556.1,449.6 M530.2,447.2 L530.2,452.1 L532.3,452.1 L532.3,457.5 L556.1,457.5 L556.1,449.2" stroke-width="2.03" fill="none"/>
<line x1="534.3" y1="454.2" x2="553.6" y2="454.2" stroke-width="2.43"/>
<line x1="537.2" y1="451.3" x2="556" y2="451.3" stroke-width="0.99"/>
<circle cx="536.5" cy="453" r="1.4" fill="#0a0a0a" stroke="none"/>
<circle cx="551" cy="453" r="1.4" fill="#0a0a0a" stroke="none"/>
<line x1="527.8" y1="407.8" x2="537.2" y2="405.5" stroke-width="1.1"/>
<line x1="537.2" y1="406.5" x2="564" y2="407.8" stroke-width="1.1"/>
<line x1="537.2" y1="406.5" x2="564" y2="411.8" stroke-width="1.1"/>
<text transform="translate(576.25,417.5) rotate(-90) scale(0.72,1)" x="0" y="0" font-size="11.43" font-weight="bold" textLength="128.47" lengthAdjust="spacing">АБНР5-64-4б-1</text>
<path d="M556.4,318.8 L579.8,329.5 L579.8,426.3 L556.1,449.2" stroke-width="1.1" fill="none"/>
<line x1="546.3" y1="291.1" x2="619.4" y2="291.1" stroke-width="1.1"/>
<line x1="559.8" y1="299.4" x2="619.4" y2="299.4" stroke-width="1.1"/>
<line x1="543.7" y1="317.1" x2="619.4" y2="317.1" stroke-width="1.1"/>
<line x1="556" y1="449.2" x2="620.3" y2="449.2" stroke-width="1.1"/>
<line x1="561" y1="453.6" x2="581.4" y2="453.6" stroke-width="1.1"/>
<line x1="561" y1="457.5" x2="620.3" y2="457.5" stroke-width="1.1"/>
<line x1="615.4" y1="288" x2="615.4" y2="465.8" stroke-width="1.1"/>
<line x1="596.5" y1="313.7" x2="596.5" y2="465.8" stroke-width="1.1"/>
<line x1="581.5" y1="445" x2="581.5" y2="466.7" stroke-width="1.1"/>
<line x1="612.4" y1="294.3" x2="618.4" y2="288.3" stroke-width="1.1"/>
<line x1="612.4" y1="302" x2="618.4" y2="296" stroke-width="1.1"/>
<line x1="612.4" y1="320.2" x2="618.4" y2="314.2" stroke-width="1.1"/>
<line x1="612.4" y1="452" x2="618.4" y2="446" stroke-width="1.1"/>
<line x1="612.4" y1="460.3" x2="618.4" y2="454.3" stroke-width="1.1"/>
<line x1="593.5" y1="320.2" x2="599.5" y2="314.2" stroke-width="1.1"/>
<line x1="593.5" y1="411.7" x2="599.5" y2="405.7" stroke-width="1.1"/>
<line x1="593.5" y1="452" x2="599.5" y2="446" stroke-width="1.1"/>
<line x1="593.5" y1="460.3" x2="599.5" y2="454.3" stroke-width="1.1"/>
<line x1="578.5" y1="452" x2="584.5" y2="446" stroke-width="1.1"/>
<line x1="578.5" y1="456.5" x2="584.5" y2="450.5" stroke-width="1.1"/>
<text transform="translate(612.05,287.3) rotate(-90) scale(0.72,1)" x="0" y="0" font-size="9.29" font-weight="bold" textLength="18.47" lengthAdjust="spacing">128</text>
<text transform="translate(612.05,314.6) rotate(-90) scale(0.72,1)" x="0" y="0" font-size="9.29" font-weight="bold" textLength="18.33" lengthAdjust="spacing">315</text>
<text transform="translate(593.9,370.8) rotate(-90) scale(0.72,1)" x="0" y="0" font-size="10.57" font-weight="bold" textLength="31.67" lengthAdjust="spacing">1510</text>
<text transform="translate(613.2,396.3) rotate(-90) scale(0.72,1)" x="0" y="0" font-size="11.43" font-weight="bold" textLength="41.53" lengthAdjust="spacing">2220</text>
<text transform="translate(594.15,439.5) rotate(-90) scale(0.72,1)" x="0" y="0" font-size="10.71" font-weight="bold" textLength="27.08" lengthAdjust="spacing">825</text>
<text transform="translate(578.75,473.7) rotate(-90) scale(0.72,1)" x="0" y="0" font-size="10.71" font-weight="bold" textLength="14.86" lengthAdjust="spacing">25</text>
<text transform="translate(611.55,472.8) rotate(-90) scale(0.72,1)" x="0" y="0" font-size="9.29" font-weight="bold" textLength="17.08" lengthAdjust="spacing">115</text>
<line x1="530" y1="457.5" x2="530" y2="522" stroke-width="1.1"/>
<line x1="557.3" y1="457.5" x2="557.3" y2="522" stroke-width="1.1"/>
<line x1="524.3" y1="482" x2="562.2" y2="482" stroke-width="1.1"/>
<line x1="524.3" y1="498.7" x2="562.2" y2="498.7" stroke-width="1.1"/>
<line x1="527.9" y1="516" x2="560.4" y2="516" stroke-width="1.1"/>
<line x1="527.1" y1="485" x2="533.1" y2="479" stroke-width="1.1"/>
<line x1="553.9" y1="485" x2="559.9" y2="479" stroke-width="1.1"/>
<line x1="527.1" y1="501.7" x2="533.1" y2="495.7" stroke-width="1.1"/>
<line x1="553.9" y1="501.7" x2="559.9" y2="495.7" stroke-width="1.1"/>
<line x1="527.1" y1="519" x2="533.1" y2="513" stroke-width="1.1"/>
<line x1="553.9" y1="519" x2="559.9" y2="513" stroke-width="1.1"/>
<text transform="translate(536.1,479.5) scale(0.9178,1)" font-size="10.71" font-weight="bold" textLength="17.87" lengthAdjust="spacing">300</text>
<text transform="translate(536.1,495.4) scale(0.92,1)" font-size="10.14" font-weight="bold" textLength="17.83" lengthAdjust="spacing">350</text>
<text transform="translate(536.1,511.5) scale(0.92,1)" font-size="10.43" font-weight="bold" textLength="17.83" lengthAdjust="spacing">400</text>
<text transform="translate(244.5,512.7) scale(0.673,1)" font-size="16.43" font-weight="bold" textLength="43.83" lengthAdjust="spacing">1 — 1</text>
<line x1="239.2" y1="515.7" x2="281.4" y2="515.7" stroke-width="1.89"/>
<line x1="86.2" y1="524.3" x2="215" y2="524.3" stroke-width="1.21"/>
<line x1="303.5" y1="524" x2="399" y2="524" stroke-width="1.21"/>
<line x1="84.2" y1="531.6" x2="212.2" y2="531.6" stroke-width="1.21"/>
<line x1="307.5" y1="531.4" x2="397.7" y2="531.4" stroke-width="1.21"/>
<line x1="82.9" y1="546.5" x2="406.6" y2="546.5" stroke-width="1.76"/>
<path d="M46.8,524.3 L86.2,524.3 L87.5,530.5 L84.2,530.5 L82.9,546.6 L43.6,546.6 L43.6,532.4 L46.1,528.6 L46.1,526 Z" stroke-width="2.03" fill="none"/>
<path d="M214.7,523.8 L303.8,523.8 L307,531.1 L301.2,531.1 L296,546.4 L220.5,546.4 L217.9,531.1 L212.1,531.1 Z" stroke-width="2.03" fill="none"/>
<path d="M399,523.5 L437.6,523.5 L438.6,529.8 L441.8,531.4 L441.8,544.6 Q441.8,545.6 440.8,545.6 L406.4,545.6 L402.2,530.8 L397.7,530.8 Z" stroke-width="2.03" fill="none"/>
<line x1="402.7" y1="531" x2="405.9" y2="545.6" stroke-width="1.1"/>
<path d="M255.4,546.4 L258,542.5 L266,542.5 L268.5,546.4" stroke-width="1.62" fill="none"/>
<path d="M257.8,543.5 A4,4 0 0 0 265.8,543.5 Z" stroke-width="1.1" fill="#0a0a0a"/>
<line x1="54.5" y1="528.6" x2="54.5" y2="543.4" stroke-width="2.7"/>
<line x1="53.5" y1="528.6" x2="57.5" y2="528.6" stroke-width="1.89"/>
<line x1="53.5" y1="543.4" x2="57.5" y2="543.4" stroke-width="1.89"/>
<circle cx="56.3" cy="531.1" r="1.3" fill="#0a0a0a" stroke="none"/>
<circle cx="56.3" cy="540.9" r="1.3" fill="#0a0a0a" stroke="none"/>
<line x1="77.8" y1="527.7" x2="77.8" y2="543" stroke-width="2.7"/>
<line x1="70.7" y1="527.7" x2="86.8" y2="527.7" stroke-width="2.43"/>
<line x1="76.8" y1="543" x2="74.8" y2="543" stroke-width="1.89"/>
<circle cx="76.0" cy="530.2" r="1.3" fill="#0a0a0a" stroke="none"/>
<circle cx="76.0" cy="540.5" r="1.3" fill="#0a0a0a" stroke="none"/>
<line x1="223" y1="527.3" x2="223" y2="542" stroke-width="2.7"/>
<line x1="217.3" y1="527.3" x2="230.2" y2="527.3" stroke-width="2.43"/>
<line x1="222" y1="542" x2="226" y2="542" stroke-width="1.89"/>
<circle cx="224.8" cy="529.8" r="1.3" fill="#0a0a0a" stroke="none"/>
<circle cx="224.8" cy="539.5" r="1.3" fill="#0a0a0a" stroke="none"/>
<line x1="248.9" y1="528" x2="248.9" y2="542" stroke-width="2.7"/>
<line x1="247.9" y1="528" x2="245.9" y2="528" stroke-width="1.89"/>
<line x1="247.9" y1="542" x2="245.9" y2="542" stroke-width="1.89"/>
<circle cx="247.1" cy="530.5" r="1.3" fill="#0a0a0a" stroke="none"/>
<circle cx="247.1" cy="539.5" r="1.3" fill="#0a0a0a" stroke="none"/>
<line x1="272.1" y1="528" x2="272.1" y2="542" stroke-width="2.7"/>
<line x1="271.1" y1="528" x2="275.1" y2="528" stroke-width="1.89"/>
<line x1="271.1" y1="542" x2="275.1" y2="542" stroke-width="1.89"/>
<circle cx="273.90000000000003" cy="530.5" r="1.3" fill="#0a0a0a" stroke="none"/>
<circle cx="273.90000000000003" cy="539.5" r="1.3" fill="#0a0a0a" stroke="none"/>
<line x1="292.8" y1="527.3" x2="292.8" y2="542" stroke-width="2.7"/>
<line x1="285" y1="527.3" x2="300" y2="527.3" stroke-width="2.43"/>
<line x1="291.8" y1="542" x2="289.8" y2="542" stroke-width="1.89"/>
<circle cx="291.0" cy="529.8" r="1.3" fill="#0a0a0a" stroke="none"/>
<circle cx="291.0" cy="539.5" r="1.3" fill="#0a0a0a" stroke="none"/>
<line x1="408.5" y1="527.1" x2="408.5" y2="545" stroke-width="2.7"/>
<line x1="399" y1="527.1" x2="412.7" y2="527.1" stroke-width="2.43"/>
<line x1="407.5" y1="545" x2="411.5" y2="545" stroke-width="1.89"/>
<circle cx="410.3" cy="529.6" r="1.3" fill="#0a0a0a" stroke="none"/>
<circle cx="410.3" cy="542.5" r="1.3" fill="#0a0a0a" stroke="none"/>
<line x1="429.1" y1="527.7" x2="429.1" y2="543.5" stroke-width="2.7"/>
<line x1="428.1" y1="527.7" x2="426.1" y2="527.7" stroke-width="1.89"/>
<line x1="428.1" y1="543.5" x2="426.1" y2="543.5" stroke-width="1.89"/>
<circle cx="427.3" cy="530.2" r="1.3" fill="#0a0a0a" stroke="none"/>
<circle cx="427.3" cy="541.0" r="1.3" fill="#0a0a0a" stroke="none"/>
<line x1="126.8" y1="524.3" x2="123.6" y2="531.6" stroke-width="1.1"/>
<line x1="128.8" y1="531.6" x2="130.1" y2="546.5" stroke-width="1.1"/>
<text transform="translate(20.8,554) scale(0.92,1)" font-size="10.0" font-weight="bold" textLength="18.48" lengthAdjust="spacing">160</text>
<line x1="34" y1="555" x2="56.7" y2="555" stroke-width="1.1"/>
<line x1="39.5" y1="558" x2="45.5" y2="552" stroke-width="1.1"/>
<line x1="52.8" y1="558" x2="58.8" y2="552" stroke-width="1.1"/>
<line x1="36" y1="567.5" x2="449" y2="567.5" stroke-width="1.1"/>
<line x1="39.5" y1="570.5" x2="45.5" y2="564.5" stroke-width="1.1"/>
<line x1="81.1" y1="570.5" x2="87.1" y2="564.5" stroke-width="1.1"/>
<line x1="125.19999999999999" y1="570.5" x2="131.2" y2="564.5" stroke-width="1.1"/>
<line x1="215" y1="570.5" x2="221" y2="564.5" stroke-width="1.1"/>
<line x1="299.5" y1="570.5" x2="305.5" y2="564.5" stroke-width="1.1"/>
<line x1="399" y1="570.5" x2="405" y2="564.5" stroke-width="1.1"/>
<line x1="439.4" y1="570.5" x2="445.4" y2="564.5" stroke-width="1.1"/>
<line x1="42.5" y1="546.5" x2="42.5" y2="572.6" stroke-width="1.1"/>
<line x1="84.1" y1="546.5" x2="84.1" y2="572" stroke-width="1.1"/>
<line x1="128.2" y1="554.7" x2="128.2" y2="572" stroke-width="1.1"/>
<line x1="218" y1="546.4" x2="218" y2="571.5" stroke-width="1.1"/>
<line x1="300.9" y1="539.9" x2="300.9" y2="571.5" stroke-width="1.1"/>
<line x1="403" y1="537.7" x2="403" y2="571" stroke-width="1.1"/>
<line x1="442.4" y1="546" x2="442.4" y2="571" stroke-width="1.1"/>
<text transform="translate(56.7,565.5) scale(0.92,1)" font-size="10.0" font-weight="bold" textLength="24.67" lengthAdjust="spacing">645</text>
<text transform="translate(96.4,565.5) scale(0.92,1)" font-size="10.0" font-weight="bold" textLength="23.59" lengthAdjust="spacing">720</text>
<text transform="translate(162.9,565.7) scale(0.92,1)" font-size="11.71" font-weight="bold" textLength="33.15" lengthAdjust="spacing">1390</text>
<text transform="translate(249.7,565.7) scale(0.92,1)" font-size="11.71" font-weight="bold" textLength="26.85" lengthAdjust="spacing">1490</text>
<text transform="translate(344.6,566.2) scale(0.92,1)" font-size="10.0" font-weight="bold" textLength="26.74" lengthAdjust="spacing">1510</text>
<text transform="translate(412.6,566.2) scale(0.92,1)" font-size="10.0" font-weight="bold" textLength="24.24" lengthAdjust="spacing">645</text>
<text transform="translate(447.6,553) scale(0.92,1)" font-size="9.0" font-weight="bold" textLength="16.09" lengthAdjust="spacing">160</text>
<line x1="424.4" y1="554.1" x2="449.7" y2="554.1" stroke-width="1.1"/>
<line x1="425.1" y1="557.1" x2="431.1" y2="551.1" stroke-width="1.1"/>
<line x1="439.8" y1="557.1" x2="445.8" y2="551.1" stroke-width="1.1"/>
<text transform="translate(457.25,541.4) rotate(-90) scale(0.72,1)" x="0" y="0" font-size="9.29" font-weight="bold" textLength="12.5" lengthAdjust="spacing">40</text>
<line x1="442.3" y1="523.2" x2="464.5" y2="523.2" stroke-width="1.1"/>
<line x1="444.4" y1="529.3" x2="464.5" y2="529.3" stroke-width="1.1"/>
<line x1="459.2" y1="518.7" x2="459.2" y2="539.8" stroke-width="1.1"/>
<line x1="456.2" y1="526.2" x2="462.2" y2="520.2" stroke-width="1.1"/>
<line x1="456.2" y1="532.3" x2="462.2" y2="526.3" stroke-width="1.1"/>
<text transform="translate(289.4,581.5) scale(0.72,1)" font-size="11.71" font-weight="bold" textLength="138.61" lengthAdjust="spacing">АБНР5-64-4б-1</text>
<path d="M273.7,544.6 L281.4,583.3 L392.7,583.3" stroke-width="1.1" fill="none"/>
<line x1="292" y1="544.6" x2="281.4" y2="583.3" stroke-width="1.1"/>
</g>
</svg>
</body></html>
